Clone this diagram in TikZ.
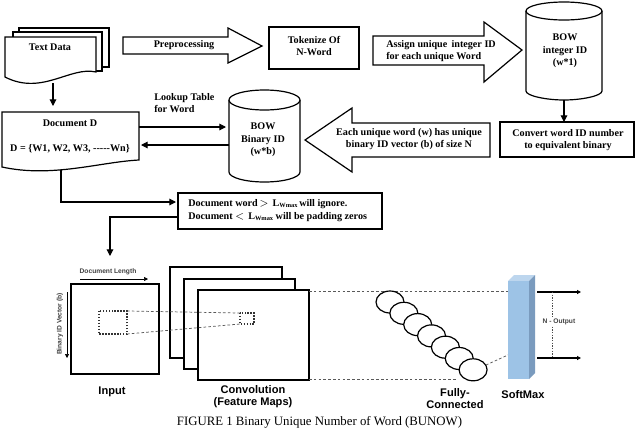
\documentclass[tikz,border=0pt]{standalone}
\usepackage{fontspec}
\setmainfont{Liberation Serif}
\setsansfont{Liberation Sans}
\usetikzlibrary{arrows.meta}
\begin{document}
\begin{tikzpicture}[x=0.75pt,y=-0.75pt,
  shp/.style={draw, line width=0.9pt, fill=white},
  lbl/.style={font=\fontsize{7.6}{9.5}\selectfont\bfseries, align=center, inner sep=0pt},
  slbl/.style={font=\sffamily\bfseries\fontsize{8.3}{8.6}\selectfont, align=center, inner sep=0pt},
  tiny/.style={font=\sffamily\bfseries\fontsize{5}{5.4}\selectfont, text=black!75, inner sep=0.5pt},
  arr/.style={-{Triangle[length=5pt,width=5pt]}, line width=0.8pt},
  sarr/.style={-{Triangle[length=3pt,width=3pt]}, line width=0.5pt},
  dsh/.style={dash pattern=on 2pt off 1.6pt, line width=0.55pt, black!65},
  dot/.style={dash pattern=on 1.1pt off 1.1pt, line width=1pt, black!80},
  blk/.style={draw, line width=0.9pt, fill=white, line join=miter}]
\useasboundingbox (0,0) rectangle (640,429);
\fill[white] (0,0) rectangle (640,429);

% ---------- Text Data (stack of documents)
\draw[shp] (19,28) rectangle (109,67);
\draw[shp] (13,32) rectangle (102,71);
\draw[shp] (5,37) -- (96,37) -- (96,72) .. controls (70,66) and (42,96) .. (5,77) -- cycle;
\node[lbl] (txt) at (50,47) {Text Data};
\coordinate (txtb) at (53,83);

% ---------- Preprocessing block arrow
\draw[blk] (123,37) -- (228,37) -- (228,28) -- (262,46) -- (228,63) -- (228,54) -- (123,54) -- cycle;
\node[lbl] (pre) at (184,45) {Preprocessing};

% ---------- Tokenize box
\draw[shp] (269,27) rectangle (359,69);
\node[lbl] (tok) at (314,46) {Tokenize Of\\N-Word};

% ---------- Assign block arrow
\draw[blk] (373,36) -- (484,36) -- (484,22) -- (522,50) -- (484,82) -- (484,65) -- (373,65) -- cycle;
\node[lbl, align=left, anchor=west] (asg) at (386,51) {Assign unique \,integer ID\\for each unique Word};

% ---------- BOW integer ID cylinder
\draw[shp] (526,11) -- (526,91) .. controls (526,96) and (547,100) .. (564,100)
  .. controls (581,100) and (602,96) .. (602,91) -- (602,11);
\draw[shp] (564,11) ellipse [x radius=38, y radius=9];
\node[lbl] (cylA) at (565,51) {BOW\\integer ID\\(w*1)};
\coordinate (cylAb) at (564,100);

% ---------- Convert box
\draw[shp] (500,122) rectangle (634,157);
\node[lbl] (conv) at (568,140) {Convert word ID number\\to equivalent binary};
\coordinate (convt) at (564,122);
\draw[arr] (cylAb) -- (convt);

% ---------- Each unique word block arrow (left)
\draw[blk] (490,123) -- (352,123) -- (352,108) -- (305,140) -- (352,172) -- (352,157) -- (490,157) -- cycle;
\node[lbl] (each) at (409,139) {Each unique word (w) has unique\\binary ID vector (b) of size N};

% ---------- BOW Binary ID cylinder
\draw[shp] (229,100) -- (229,172) .. controls (229,177.5) and (245,182) .. (264.5,182)
  .. controls (284,182) and (300,177.5) .. (300,172) -- (300,100);
\draw[shp] (264.5,100) ellipse [x radius=35.5, y radius=10];
\node[lbl] (cylB) at (263,140) {BOW\\Binary ID\\(w*b)};

% ---------- Document D
\draw[shp] (2,112) -- (139,112) -- (139,160) .. controls (100,162) and (52,178) .. (2,167) -- cycle;
\node[lbl] (docD) at (70,123) {Document D};
\node[lbl] (docS) at (70,149) {D = \{W1, W2, W3, {-}{-}{-}{-}{-}Wn\}};
\coordinate (doct) at (53,106);
\draw[arr] (txtb) -- (doct);

% Lookup table
\node[lbl, align=left, anchor=west] (look) at (154,103) {Lookup Table\\for Word};
\coordinate (docR1) at (139,127);
\coordinate (cylL1) at (226,127);
\coordinate (cylL2) at (229,145);
\coordinate (docR2) at (141,145);
\draw[arr] (docR1) -- (cylL1);
\draw[arr] (cylL2) -- (docR2);

% ---------- Constraint box
\draw[shp] (178,193) rectangle (382,229);
\node[lbl, align=left, anchor=west] (rule) at (188,210.5)
  {Document word$\,>$\, L{\fontsize{4.8}{5}\selectfont\raisebox{-1pt}{Wmax}}\,will ignore.\\
   Document $<$\, L{\fontsize{4.8}{5}\selectfont\raisebox{-1pt}{Wmax}} will be padding zeros};
\coordinate (docb) at (61,170);
\coordinate (ruleL) at (176,202);
\coordinate (ruleL2) at (178,217);
\coordinate (inTop) at (110,256);
\draw[arr] (docb) |- (ruleL);
\draw[arr] (ruleL2) -| (inTop);

% ---------- Input
\draw[line width=0.9pt] (71,284) rectangle (159,374);
\node[tiny] (dlen) at (108,272) {Document Length};
\coordinate (dl1) at (80,279);
\coordinate (dl2) at (148,279);
\draw[sarr] (dl1) -- (dl2);
\node[tiny, rotate=90] (bvec) at (60,324) {Binary ID Vector (b)};
\coordinate (bv1) at (67,292);
\coordinate (bv2) at (67,358);
\draw[sarr] (bv1) -- (bv2);
\draw[dot] (99,311) rectangle (127,334);
\node[slbl] (inp) at (112,392) {Input};

% ---------- Convolution feature maps
\draw[shp] (170,267) rectangle (282,358);
\draw[shp] (184,279) rectangle (295,369);
\draw[shp] (198,290) rectangle (309,380);
\draw[dot] (240,313) rectangle (254,324);
\draw[dsh] (127,311) -- (240,313);
\draw[dsh] (127,334) -- (240,324);
\node[slbl] (cnv) at (253,396.5) {Convolution\\(Feature Maps)};

% ---------- dashed links to FC / softmax
\coordinate (fmTR) at (309,291);
\coordinate (fmBR) at (309,379);
\coordinate (smL) at (508,291);
\coordinate (fcB) at (457,379);
\draw[dsh] (fmTR) -- (smL);
\draw[dsh] (fmBR) -- (fcB);

% ---------- Fully connected
\foreach \i in {0,...,6} {
  \draw[line width=0.9pt, fill=white] ({390+13.85*\i},{302+11.3*\i}) ellipse [x radius=14, y radius=11];
}
\coordinate (fcE) at (486,365);
\coordinate (smM) at (508,355);
\draw[dsh] (fcE) -- (smM);
\node[slbl] (fc) at (455,398.5) {Fully-\\Connected};

% ---------- SoftMax
\definecolor{smtop}{RGB}{189,214,238}
\definecolor{smside}{RGB}{122,155,190}
\definecolor{smfront}{RGB}{157,195,230}
\fill[smtop] (508,281) -- (514,275) -- (535,275) -- (529,281) -- cycle;
\fill[smside] (529,281) -- (535,275) -- (535,373) -- (529,379) -- cycle;
\fill[smfront] (508,281) rectangle (529,379);
\node[slbl] (sm) at (523,395) {SoftMax};
\coordinate (o1s) at (537,292);
\coordinate (o1e) at (581,292);
\coordinate (o2s) at (537,358);
\coordinate (o2e) at (581,358);
\draw[sarr, line width=0.8pt] (o1s) -- (o1e);
\draw[sarr, line width=0.8pt] (o2s) -- (o2e);
\coordinate (nt) at (552,292);
\coordinate (nb) at (552,358);
\draw[dash pattern=on 1pt off 1pt, line width=0.4pt, black!70] (nt) -- (nb);
\node[tiny, fill=white, inner sep=0.8pt] (nout) at (559,322) {N - Output};

% ---------- Caption
\node[font=\fontsize{9.6}{11}\selectfont, anchor=base, inner sep=0pt] (cap) at (319.5,425.5)
  {FIGURE 1 Binary Unique Number of Word (BUNOW)};
\end{tikzpicture}
\end{document}
